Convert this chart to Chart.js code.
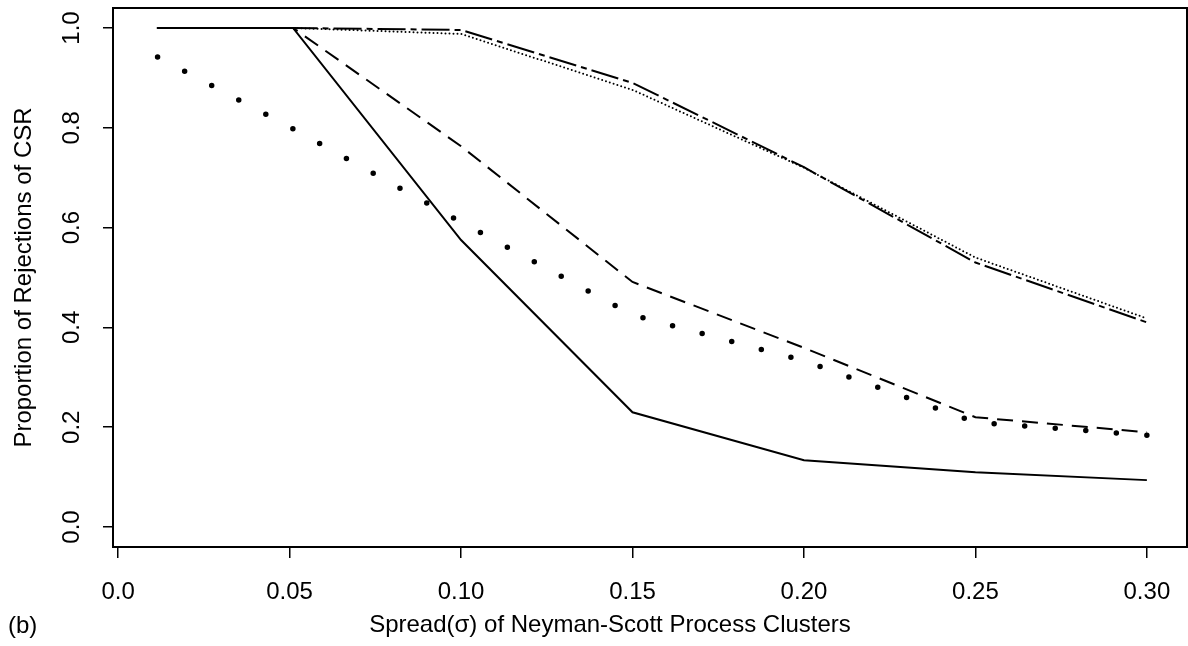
<!DOCTYPE html>
<html><head><meta charset="utf-8">
<script src="https://cdn.jsdelivr.net/npm/chart.js@4.4.1/dist/chart.umd.min.js"></script>
<style>html,body{margin:0;padding:0;background:#fff;}</style>
</head><body>
<canvas id="c" width="1188" height="646"></canvas>
<script>
const sigma = [0.0115, 0.051, 0.10, 0.15, 0.20, 0.25, 0.30];
const solidVals = [1.0, 1.0, 0.575, 0.23, 0.134, 0.110, 0.094];
const dashedVals = [1.0, 1.0, 0.763, 0.491, 0.359, 0.22, 0.19];
const bigDotVals = [0.942, 0.798, 0.611, 0.425, 0.333, 0.21, 0.184];
const twoDashVals = [1.0, 1.0, 0.996, 0.89, 0.721, 0.53, 0.41];
const fineDotVals = [1.0, 1.0, 0.988, 0.876, 0.72, 0.54, 0.418];
const xTicks = [0, 0.05, 0.10, 0.15, 0.20, 0.25, 0.30];
const xTickLabels = ["0.0", "0.05", "0.10", "0.15", "0.20", "0.25", "0.30"];
const yTicks = [0, 0.2, 0.4, 0.6, 0.8, 1.0];
const yTickLabels = ["0.0", "0.2", "0.4", "0.6", "0.8", "1.0"];
const xTitle = "Spread(σ) of Neyman-Scott Process Clusters";
const yTitle = "Proportion of Rejections of CSR";
const panelLabel = "(b)";

const FAM = '"Liberation Sans", Arial, Helvetica, sans-serif';
const pts = vals => sigma.map((x, i) => ({x: x, y: vals[i]}));

const frame = {
  id: 'frame',
  afterDatasetsDraw(chart) {
    const {ctx, chartArea: a} = chart;
    ctx.save();
    ctx.strokeStyle = '#000';
    ctx.lineWidth = 2;
    ctx.strokeRect(a.left, a.top, a.right - a.left, a.bottom - a.top);
    ctx.restore();
  },
  afterDraw(chart) {
    const ctx = chart.ctx;
    ctx.save();
    ctx.fillStyle = '#000';
    ctx.font = '24px ' + FAM;
    ctx.textBaseline = 'middle';
    ctx.textAlign = 'left';
    ctx.fillText(panelLabel, 8, 626);
    ctx.restore();
  }
};

function ds(vals, dash, width, cap) {
  return {
    data: pts(vals),
    borderColor: '#000',
    backgroundColor: '#000',
    borderWidth: width,
    borderDash: dash,
    borderCapStyle: cap,
    pointRadius: 0,
    fill: false,
    tension: 0
  };
}

new Chart(document.getElementById('c'), {
  type: 'line',
  data: {
    datasets: [
      ds(solidVals, [], 2, 'butt'),
      ds(dashedVals, [16, 9], 2, 'butt'),
      ds(bigDotVals, [0, 30.63], 5.5, 'round'),
      ds(twoDashVals, [28, 5, 6, 5], 2, 'butt'),
      ds(fineDotVals, [0, 4], 2, 'round')
    ]
  },
  options: {
    responsive: false,
    animation: false,
    devicePixelRatio: 1,
    layout: {padding: {top: 8, right: 1, left: 0, bottom: 0}},
    plugins: {legend: {display: false}, tooltip: {enabled: false}, title: {display: false}},
    scales: {
      x: {
        type: 'linear',
        min: -0.0015,
        max: 0.3117,
        afterBuildTicks(s) { s.ticks = xTicks.map(v => ({value: v})); },
        afterFit(s) { s.height = 99; s.paddingLeft = 0; s.paddingRight = 0; },
        ticks: {
          autoSkip: false, maxRotation: 0, minRotation: 0,
          callback: v => xTickLabels[xTicks.indexOf(v)],
          color: '#000', font: {family: FAM, size: 24}, padding: 20
        },
        grid: {drawOnChartArea: false, drawTicks: true, tickLength: 11, color: '#000', lineWidth: 1.5},
        border: {display: false},
        title: {
          display: true,
          text: xTitle + '\u00a0'.repeat(12),
          color: '#000', font: {family: FAM, size: 24},
          padding: {top: 0, bottom: 6.6}
        }
      },
      y: {
        type: 'linear',
        min: -0.04,
        max: 1.04,
        afterBuildTicks(s) { s.ticks = yTicks.map(v => ({value: v})); },
        afterFit(s) { s.width = 113; s.paddingTop = 0; s.paddingBottom = 0; },
        ticks: {
          autoSkip: false, minRotation: 90, maxRotation: 90, crossAlign: 'center',
          callback: v => yTickLabels[yTicks.indexOf(v)],
          color: '#000', font: {family: FAM, size: 24}, padding: 14
        },
        grid: {drawOnChartArea: false, drawTicks: true, tickLength: 10, color: '#000', lineWidth: 1.5},
        border: {display: false},
        title: {
          display: true,
          text: yTitle,
          color: '#000', font: {family: FAM, size: 24},
          padding: {top: 9.6, bottom: 0}
        }
      }
    }
  },
  plugins: [frame]
});
</script>
</body></html>
